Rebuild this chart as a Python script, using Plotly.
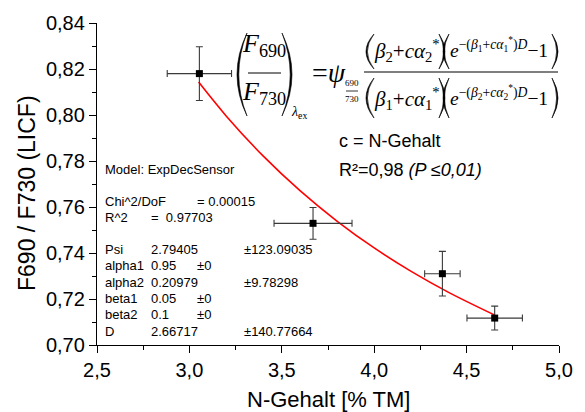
import plotly.graph_objects as go

# ---------------- data ----------------
n_content = [3.054, 3.669, 4.369, 4.652]          # N-Gehalt [% TM]
licf_ratio = [0.8180, 0.7529, 0.7310, 0.7117]     # F690 / F730
n_err = [0.174, 0.211, 0.096, 0.150]
licf_err = [0.0117, 0.0069, 0.0097, 0.0052]

fit_x = [3.05, 3.2, 3.4, 3.6, 3.8, 4.0, 4.2, 4.4, 4.65]
fit_y = [0.8143, 0.7995, 0.7821, 0.7670, 0.7538, 0.7422, 0.7320, 0.7230, 0.7131]

x_ticks = [2.5, 3.0, 3.5, 4.0, 4.5, 5.0]
y_ticks = [0.70, 0.72, 0.74, 0.76, 0.78, 0.80, 0.82, 0.84]

x_title = "N-Gehalt [% TM]"
y_title = "F690 / F730 (LICF)"

model_title = "Model: ExpDecSensor"
stat_labels = ["Chi^2/DoF", "R^2"]
stat_values = ["= 0.00015", "=  0.97703"]
param_names = ["Psi", "alpha1", "alpha2", "beta1", "beta2", "D"]
param_values = ["2.79405", "0.95", "0.20979", "0.05", "0.1", "2.66717"]
param_errors = ["±123.09035", "±0", "±9.78298", "±0", "±0", "±140.77664"]

# ---------------- geometry helpers ----------------
W, H = 585, 412
L, R, T, B = 97, 26, 23, 67
PW, PH = W - L - R, H - T - B


def X(p):
    return (p - L) / PW


def Y(p):
    return (T + PH - p) / PH


SANS = "Liberation Sans, Arial, sans-serif"
SERIF = "Liberation Serif, Times New Roman, serif"

fig = go.Figure()

fig.add_trace(go.Scatter(
    x=fit_x, y=fit_y, mode="lines", line=dict(color="#ff0000", width=1.6, shape="spline"),
    showlegend=False, hoverinfo="skip"))

fig.add_trace(go.Scatter(
    x=n_content, y=licf_ratio, mode="markers",
    marker=dict(symbol="square", size=7, color="black"),
    error_x=dict(type="data", array=n_err, color="#3a3a3a", thickness=1.1, width=3.5),
    error_y=dict(type="data", array=licf_err, color="#3a3a3a", thickness=1.1, width=3.5),
    showlegend=False))

annotations = []


def ann(text, xp, yp, size, family=SANS, xanchor="left", yanchor="middle", **kw):
    annotations.append(dict(text=text, x=X(xp), y=Y(yp), xref="paper", yref="paper",
                            xanchor=xanchor, yanchor=yanchor, showarrow=False,
                            font=dict(size=size, family=family, color="black"), **kw))


# axis titles
ann(x_title, 328, 399, 22, xanchor="center")
ann(y_title, 27, 193, 23, xanchor="center", textangle=-90)

# model box text
ann(model_title, 103, 169, 13)
stat_y = [201, 217]
ann(stat_labels[0], 103, stat_y[0], 13)
ann(stat_values[0], 195, stat_y[0], 13)
ann(stat_labels[1], 103, stat_y[1], 13)
ann(stat_values[1], 149, stat_y[1], 13)
row_y = [249.5, 265.8, 282, 298.2, 314.6, 331]
for i, name in enumerate(param_names):
    ann(name, 103, row_y[i], 13)
    ann(param_values[i], 149, row_y[i], 13)
    ex = 195 if param_errors[i] == "±0" else 242
    ann(param_errors[i], ex, row_y[i], 13)

# formula (left side)
ann("<i>F</i><sub>690</sub>", 264, 45, 26, SERIF, xanchor="center")
ann("<i>F</i><sub>730</sub>", 264, 93, 26, SERIF, xanchor="center")
ann("<i>λ</i><sub>ex</sub>", 299, 113, 14, SERIF, xanchor="center")
ann("=<i>ψ</i>", 329, 73, 28, SERIF, xanchor="center")
ann("690", 352, 83, 9, SERIF, xanchor="center", borderpad=0)
ann("730", 352, 99, 9, SERIF, xanchor="center", borderpad=0)

# big fraction, numerator / denominator pieces
numA = "<i>β</i><sub>2</sub>+<i>cα</i><sub>2</sub><sup>*</sup>"
numB = "<i>e</i><sup>−(<i>β</i><sub>1</sub>+<i>cα</i><sub>1</sub><sup>*</sup>)<i>D</i></sup>−1"
denA = "<i>β</i><sub>1</sub>+<i>cα</i><sub>1</sub><sup>*</sup>"
denB = "<i>e</i><sup>−(<i>β</i><sub>2</sub>+<i>cα</i><sub>2</sub><sup>*</sup>)<i>D</i></sup>−1"
ann(numA, 373, 50, 21, SERIF, borderpad=0)
ann(numB, 449, 47, 19.5, SERIF, borderpad=0)
ann(denA, 373, 98, 21, SERIF, borderpad=0)
ann(denB, 449, 95, 19.5, SERIF, borderpad=0)

ann("c = N-Gehalt", 337, 141, 18)
ann("R²=0,98 <i>(P ≤0,01)</i>", 337, 170, 18)

shapes = []


def hline(x0, x1, yp, w=1.2):
    shapes.append(dict(type="line", xref="paper", yref="paper", x0=X(x0), x1=X(x1),
                       y0=Y(yp), y1=Y(yp), line=dict(color="black", width=w)))


def paren(x_end, x_mid, y_top, y_bot, th):
    ym = (y_top + y_bot) / 2
    c_out = 2 * x_mid - x_end
    c_in = 2 * (x_mid + th) - x_end if x_mid < x_end else 2 * (x_mid - th) - x_end
    path = (f"M {X(x_end)},{Y(y_top)} Q {X(c_out)},{Y(ym)} {X(x_end)},{Y(y_bot)} "
            f"Q {X(c_in)},{Y(ym)} {X(x_end)},{Y(y_top)} Z")
    shapes.append(dict(type="path", xref="paper", yref="paper", path=path,
                       fillcolor="black", line=dict(color="black", width=0.6)))


# left-hand parentheses
paren(247, 237, 33, 116, 1.8)
paren(282, 292, 33, 116, 1.8)
hline(248, 281, 73)
hline(346, 358, 91, 0.8)
# numerator parentheses
paren(374, 366, 34, 69, 1.4)
paren(439, 445, 34, 69, 1.4)
paren(449, 443, 34, 69, 1.4)
paren(552, 558, 34, 69, 1.4)
# denominator parentheses
paren(374, 366, 78, 118, 1.4)
paren(439, 445, 78, 118, 1.4)
paren(449, 443, 78, 118, 1.4)
paren(552, 558, 78, 118, 1.4)
hline(364, 558, 72)

fig.update_layout(
    width=W, height=H, margin=dict(l=L, r=R, t=T, b=B),
    paper_bgcolor="white", plot_bgcolor="white",
    separators=",.",
    font=dict(family=SANS, color="black"),
    annotations=annotations, shapes=shapes,
    xaxis=dict(range=[2.5, 5.0], tickvals=x_ticks, tickformat=".1f",
               showline=True, linecolor="black", linewidth=1.3, mirror=False,
               ticks="outside", ticklen=7, tickwidth=1.3, tickcolor="black",
               minor=dict(ticks="outside", ticklen=4, tickwidth=1.3, tickcolor="black", dtick=0.25),
               showgrid=False, zeroline=False, tickfont=dict(size=20, family=SANS)),
    yaxis=dict(range=[0.70, 0.84], tickvals=y_ticks, tickformat=".2f",
               showline=True, linecolor="black", linewidth=1.3, mirror=False,
               ticks="outside", ticklen=7, tickwidth=1.3, tickcolor="black",
               minor=dict(ticks="outside", ticklen=4, tickwidth=1.3, tickcolor="black", dtick=0.01),
               showgrid=False, zeroline=False, tickfont=dict(size=20, family=SANS)),
)

fig.write_html("out.html")
